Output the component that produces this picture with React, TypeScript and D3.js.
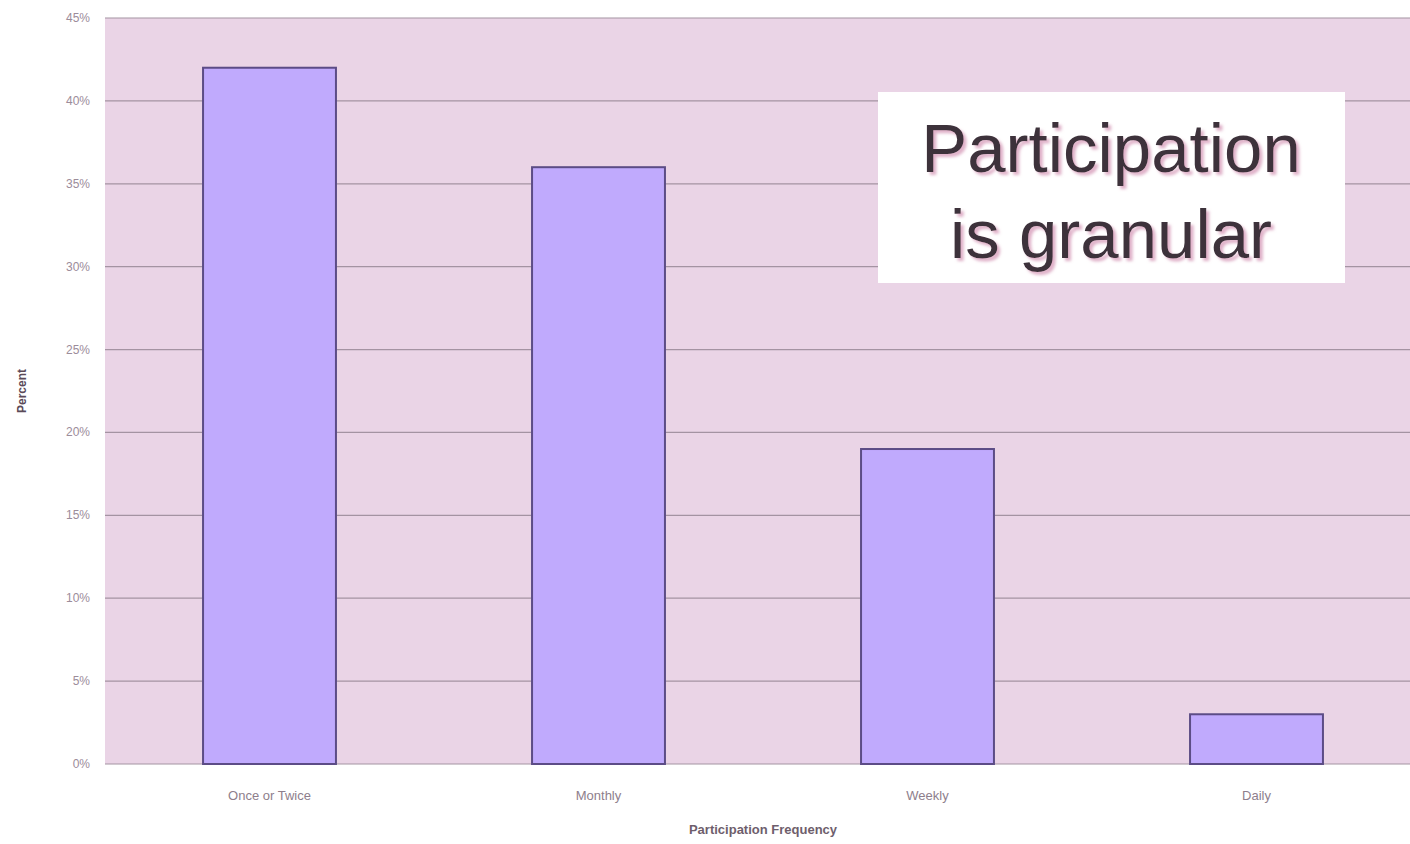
import React, { useEffect, useRef } from 'react';
import * as d3 from 'd3';

const categories = ['Once or Twice', 'Monthly', 'Weekly', 'Daily'];
const percents = [42, 36, 19, 3];
const yTicks = [0, 5, 10, 15, 20, 25, 30, 35, 40, 45];
const titleLines = ['Participation', 'is granular'];

const App = () => {
  const ref = useRef<SVGSVGElement>(null);

  useEffect(() => {
    const svg = d3.select(ref.current);
    svg.selectAll('*').remove();

    const left = 105;
    const top = 18;
    const bottom = 764;

    const x = d3
      .scaleBand()
      .domain(categories)
      .range([left, 1421])
      .paddingInner(0.596)
      .paddingOuter(0.298);

    const y = d3.scaleLinear().domain([0, 45]).range([bottom, top]);

    // soft pink shadow for the callout text
    const filter = svg
      .append('defs')
      .append('filter')
      .attr('id', 'pinkShadow')
      .attr('x', '-10%')
      .attr('y', '-20%')
      .attr('width', '120%')
      .attr('height', '140%');
    filter
      .append('feDropShadow')
      .attr('dx', 3)
      .attr('dy', 3)
      .attr('stdDeviation', 1.5)
      .attr('flood-color', '#dca8c2')
      .attr('flood-opacity', 0.9);

    // plot background
    svg
      .append('rect')
      .attr('x', left)
      .attr('y', top)
      .attr('width', 1410 - left)
      .attr('height', bottom - top)
      .attr('fill', '#ead4e6');

    // gridlines
    svg
      .append('g')
      .selectAll('line')
      .data(yTicks)
      .enter()
      .append('line')
      .attr('x1', left)
      .attr('x2', 1410)
      .attr('y1', (d) => y(d))
      .attr('y2', (d) => y(d))
      .attr('stroke', '#a493a2')
      .attr('stroke-width', 1.2);

    // y tick labels
    svg
      .append('g')
      .selectAll('text')
      .data(yTicks)
      .enter()
      .append('text')
      .attr('x', 90)
      .attr('y', (d) => y(d) + 4)
      .attr('text-anchor', 'end')
      .attr('font-family', 'Liberation Sans, Arial, sans-serif')
      .attr('font-size', 12)
      .attr('fill', '#9c8c9a')
      .text((d) => d + '%');

    // bars
    svg
      .append('g')
      .selectAll('rect')
      .data(percents)
      .enter()
      .append('rect')
      .attr('x', (d, i) => x(categories[i]))
      .attr('y', (d) => y(d))
      .attr('width', x.bandwidth())
      .attr('height', (d) => bottom - y(d))
      .attr('fill', '#c0aafd')
      .attr('stroke', '#5c4c86')
      .attr('stroke-width', 2);

    // x labels
    svg
      .append('g')
      .selectAll('text')
      .data(categories)
      .enter()
      .append('text')
      .attr('x', (d) => x(d) + x.bandwidth() / 2)
      .attr('y', 800)
      .attr('text-anchor', 'middle')
      .attr('font-family', 'Liberation Sans, Arial, sans-serif')
      .attr('font-size', 13)
      .attr('fill', '#8e7e8c')
      .text((d) => d);

    // axis titles
    svg
      .append('text')
      .attr('x', 763)
      .attr('y', 834)
      .attr('text-anchor', 'middle')
      .attr('font-family', 'Liberation Sans, Arial, sans-serif')
      .attr('font-weight', 'bold')
      .attr('font-size', 13)
      .attr('fill', '#6e5e6c')
      .text('Participation Frequency');

    svg
      .append('text')
      .attr('transform', 'translate(26, 391) rotate(-90)')
      .attr('text-anchor', 'middle')
      .attr('font-family', 'Liberation Sans, Arial, sans-serif')
      .attr('font-weight', 'bold')
      .attr('font-size', 12)
      .attr('fill', '#5a4a58')
      .text('Percent');

    // callout box
    svg
      .append('rect')
      .attr('x', 878)
      .attr('y', 92)
      .attr('width', 467)
      .attr('height', 191)
      .attr('fill', '#ffffff');

    svg
      .append('g')
      .attr('filter', 'url(#pinkShadow)')
      .selectAll('text')
      .data(titleLines)
      .enter()
      .append('text')
      .attr('x', 1111)
      .attr('y', (d, i) => 172 + i * 86)
      .attr('text-anchor', 'middle')
      .attr('font-family', 'Liberation Sans, Arial, sans-serif')
      .attr('font-size', 69)
      .attr('fill', '#3d333b')
      .text((d) => d);
  }, []);

  return (
    <svg
      ref={ref}
      width={1410}
      height={844}
      style={{ position: 'absolute', left: 0, top: 0, background: '#fff' }}
    ></svg>
  );
};

export default App;
